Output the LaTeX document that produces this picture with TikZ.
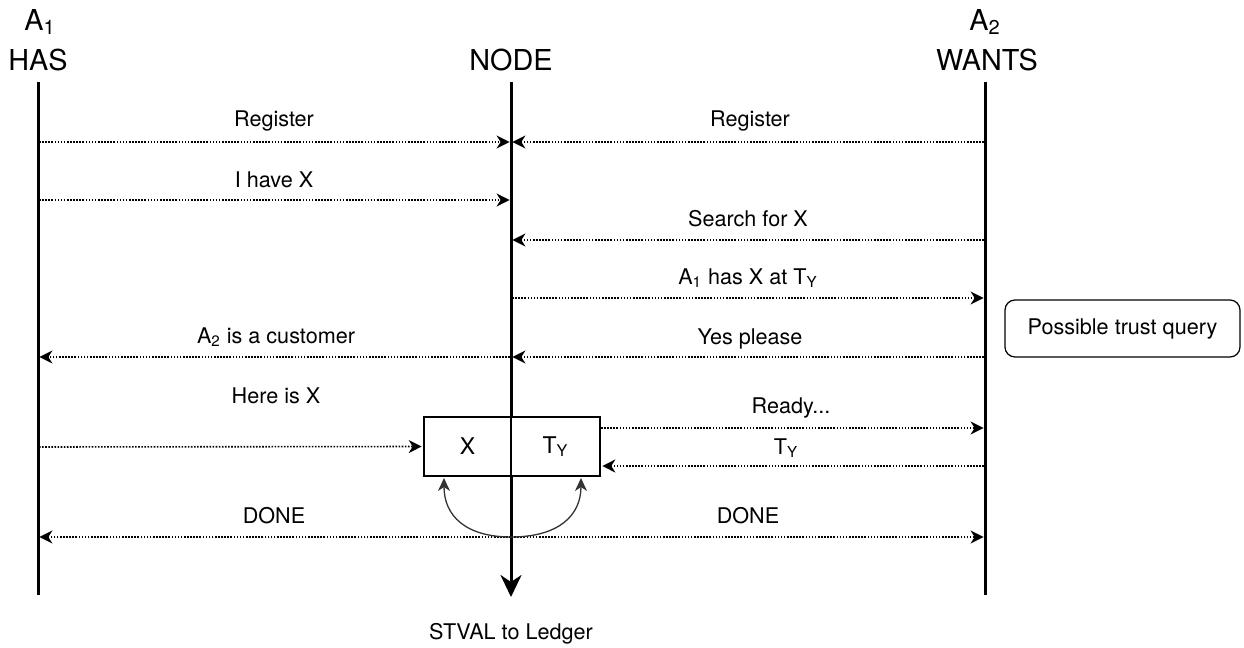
\documentclass[tikz,border=0pt]{standalone}
\usepackage{fontspec}
\setmainfont{TeX Gyre Heros}
\usetikzlibrary{arrows.meta}
\begin{document}
\begin{tikzpicture}[x=0.5pt,y=-0.5pt,
  tip/.style={},
  life/.style={line width=1.5pt},
  msg/.style={line width=0.8pt, dash pattern=on 0.8pt off 0.75pt, shorten >=0.7pt,
    -{Stealth[length=6.5pt,width=6.5pt,inset=2pt]}},
  curv/.style={line width=0.65pt, draw=black!80, -{Stealth[length=6.5pt,width=6pt,inset=2pt]}},
  lbl/.style={font=\fontsize{10.8}{13}\selectfont, inner sep=0pt},
  hdr/.style={font=\fontsize{14.4}{17}\selectfont, inner sep=0pt},
  cell/.style={draw, line width=0.9pt, fill=white, minimum height=29.5pt, inner sep=0pt,
    font=\fontsize{11.5}{13}\selectfont}]
\useasboundingbox (0,0) rectangle (1244,648);

% headers
\node[hdr] (a1name) at (40,22) {A\textsubscript{1}};
\node[hdr] (has) at (38,60) {HAS};
\node[hdr] (nodehdr) at (511,60) {NODE};
\node[hdr] (a2name) at (985,22) {A\textsubscript{2}};
\node[hdr] (wants) at (987,60) {WANTS};

% lifelines
\coordinate (a1top) at (38,82);  \coordinate (a1bot) at (38,595);
\coordinate (a2top) at (985,82); \coordinate (a2bot) at (985,595);
\coordinate (ntop) at (511,82);  \coordinate (nbot) at (511,597);
\draw[life] (a1top) -- (a1bot);
\draw[life] (a2top) -- (a2bot);
\draw[life, -{Stealth[length=11pt,width=10.5pt,inset=3.5pt]}] (ntop) -- (nbot);

% message end points
\coordinate (a1r1) at (39,142);  \coordinate (n1) at (511,142);  \coordinate (a2r1) at (984,142);
\coordinate (a1r2) at (39,200);  \coordinate (n2) at (511,200);
\coordinate (a2r3) at (984,240); \coordinate (n3) at (511,240);
\coordinate (n4) at (512,298);   \coordinate (a2r4) at (985,298);
\coordinate (n5) at (510,357);   \coordinate (a1r5) at (38,357);  \coordinate (n5b) at (511,357); \coordinate (a2r5) at (984,357);
\coordinate (a1r6) at (39,447);
\coordinate (a2r7) at (985,428);
\coordinate (a2r8) at (984,466);
\coordinate (n9) at (511,537);   \coordinate (a1r9) at (38,537);  \coordinate (a2r9) at (985,537);

% box
\node[cell, minimum width=43.5pt] (boxX) at (467.5,446.5) {X};
\node[cell, minimum width=44.5pt] (boxT) at (555.5,446.5) {T\textsubscript{Y}};

% messages
\draw[msg] (a1r1) -- (n1);
\draw[msg] (a2r1) -- (n1);
\draw[msg] (a1r2) -- (n2);
\draw[msg] (a2r3) -- (n3);
\draw[msg] (n4) -- (a2r4);
\draw[msg] (n5) -- (a1r5);
\draw[msg] (a2r5) -- (n5b);
\draw[msg] (a1r6) -- (boxX.west);
\draw[msg] (boxT.east |- a2r7) -- (a2r7);
\draw[msg] (a2r8) -- (boxT.east |- a2r8);
\draw[msg] (n9) -- (a1r9);
\draw[msg] (n9) -- (a2r9);

% labels
\node[lbl] (l1) at (274,121) {Register};
\node[lbl] (l2) at (750,121) {Register};
\node[lbl] (l3) at (274,180) {I have X};
\node[lbl] (l4) at (748,219) {Search for X};
\node[lbl] (l5) at (748,278) {A\textsubscript{1} has X at T\textsubscript{Y}};
\node[lbl] (l6) at (276,337) {A\textsubscript{2} is a customer};
\node[lbl] (l7) at (750,339) {Yes please};
\node[lbl] (l8) at (276,396) {Here is X};
\node[lbl] (l9) at (791,408) {Ready...};
\node[lbl] (l10) at (786,448) {T\textsubscript{Y}};
\node[lbl] (l11) at (274,516) {DONE};
\node[lbl] (l12) at (748,516) {DONE};

% curved arrows
\coordinate (tipL) at (444,478);
\coordinate (tipR) at (581,478);
\draw[curv] (n9) .. controls (466,537) and (444,516) .. (tipL);
\draw[curv] (n9) .. controls (558,537) and (581,516) .. (tipR);

% trust query
\node[draw, rounded corners=5pt, line width=0.6pt, minimum width=117.5pt, minimum height=28.5pt,
  inner sep=0pt, font=\fontsize{10.8}{13}\selectfont] (trust) at (1122.5,328.5) {Possible trust query};

% bottom
\node[lbl] (stval) at (511,634) {STVAL to Ledger};
\end{tikzpicture}
\end{document}
